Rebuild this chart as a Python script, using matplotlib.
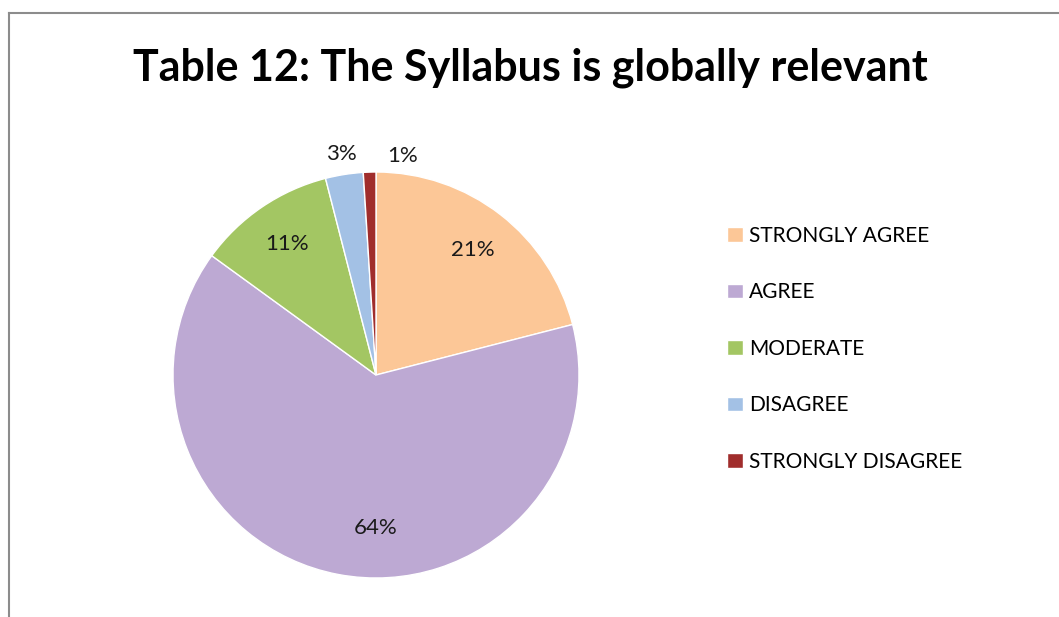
import matplotlib.pyplot as plt
from matplotlib.lines import Line2D

plt.rcParams["font.family"] = ["Lato", "DejaVu Sans"]

categories = ["STRONGLY AGREE", "AGREE", "MODERATE", "DISAGREE", "STRONGLY DISAGREE"]
values = [21, 64, 11, 3, 1]
colors = ["#FCC797", "#BDA9D3", "#A3C663", "#A3C1E5", "#A02D2C"]

fig = plt.figure(figsize=(10.59, 6.17), dpi=100)
W, H = 1059, 617

# chart border (only top and left show in the crop)
fig.add_artist(Line2D([9 / W, 9 / W], [0, 1 - 13 / H], color="#8c8c8c", lw=1.5))
fig.add_artist(Line2D([9 / W, 1], [1 - 13 / H, 1 - 13 / H], color="#8c8c8c", lw=1.5))

fig.text(530 / W, 1 - 68 / H, "Table 12: The Syllabus is globally relevant",
         ha="center", va="center", fontsize=31, fontweight="bold")

cx, cy, r = 376, 375, 203
ax = fig.add_axes([(cx - r) / W, (H - cy - r) / H, 2 * r / W, 2 * r / H])
wedges, texts, autotexts = ax.pie(values, colors=colors, startangle=90, counterclock=False,
                                  autopct="%1.0f%%", pctdistance=0.78,
                                  wedgeprops=dict(edgecolor="white", linewidth=1),
                                  textprops=dict(fontsize=16, color="#1a1a1a"))
ax.set_xlim(-1, 1)
ax.set_ylim(-1, 1)
ax.set_aspect("equal")

# label placement like the original (best fit)
autotexts[1].set_position((0.0, -0.755))
autotexts[3].set_position((-0.17, 1.09))
autotexts[4].set_position((0.13, 1.08))

fig.legend(wedges, categories, loc="upper left", bbox_to_anchor=(727 / W, 1 - 226 / H),
           frameon=False, fontsize=15, handlelength=0.75, handleheight=0.7,
           handletextpad=0.3, labelspacing=1.75, borderpad=0, borderaxespad=0)

fig.savefig("out.png", dpi=100)
